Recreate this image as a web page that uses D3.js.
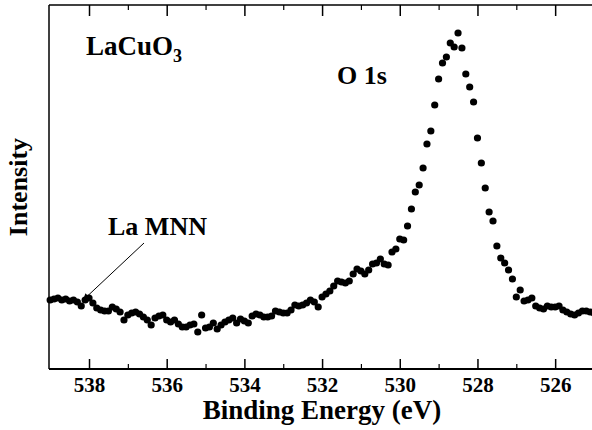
<!DOCTYPE html>
<html>
<head>
<meta charset="utf-8">
<script src="https://cdn.jsdelivr.net/npm/d3@7"></script>
<style>
  body { margin: 0; background: #fff; }
  text { font-family: "Liberation Serif", "DejaVu Serif", serif; font-weight: bold; fill: #000; }
</style>
</head>
<body>
<svg id="chart" width="592" height="430"></svg>
<script>
// binding energy (eV), 0.1 eV steps
var energy = [
  539.0, 538.9, 538.8, 538.7, 538.6, 538.5, 538.4, 538.3, 538.2, 538.1,
  538.0, 537.9, 537.8, 537.7, 537.6, 537.5, 537.4, 537.3, 537.2, 537.1,
  537.0, 536.9, 536.8, 536.7, 536.6, 536.5, 536.4, 536.3, 536.2, 536.1,
  536.0, 535.9, 535.8, 535.7, 535.6, 535.5, 535.4, 535.3, 535.2, 535.1,
  535.0, 534.9, 534.8, 534.7, 534.6, 534.5, 534.4, 534.3, 534.2, 534.1,
  534.0, 533.9, 533.8, 533.7, 533.6, 533.5, 533.4, 533.3, 533.2, 533.1,
  533.0, 532.9, 532.8, 532.7, 532.6, 532.5, 532.4, 532.3, 532.2, 532.1,
  532.0, 531.9, 531.8, 531.7, 531.6, 531.5, 531.4, 531.3, 531.2, 531.1,
  531.0, 530.9, 530.8, 530.7, 530.6, 530.5, 530.4, 530.3, 530.2, 530.1,
  530.0, 529.9, 529.8, 529.7, 529.6, 529.5, 529.4, 529.3, 529.2, 529.1,
  529.0, 528.9, 528.8, 528.7, 528.6, 528.5, 528.4, 528.3, 528.2, 528.1,
  528.0, 527.9, 527.8, 527.7, 527.6, 527.5, 527.4, 527.3, 527.2, 527.1,
  527.0, 526.9, 526.8, 526.7, 526.6, 526.5, 526.4, 526.3, 526.2, 526.1,
  526.0, 525.9, 525.8, 525.7, 525.6, 525.5, 525.4, 525.3, 525.2, 525.1,
  525.0
];

// intensity (arb. units)
var intensity = [
  69, 70, 71, 69, 70, 68, 69, 67, 63, 69,
  71, 66, 61, 59, 58, 58, 62, 60, 57, 49,
  54, 56, 57, 55, 52, 49, 44, 51, 53, 54,
  49, 47, 49, 45, 42, 42, 44, 45, 37, 54,
  41, 42, 46, 40, 44, 47, 49, 51, 46, 50,
  48, 46, 53, 55, 54, 52, 52, 53, 58, 57,
  56, 56, 59, 64, 63, 64, 66, 69, 67, 62,
  72, 75, 78, 83, 88, 87, 86, 88, 95, 100,
  98, 95, 99, 105, 106, 110, 105, 104, 117, 120,
  130, 129, 143, 160, 177, 184, 201, 225, 238, 264,
  290, 306, 312, 326, 322, 336, 321, 295, 282, 267,
  231, 206, 181, 157, 148, 123, 111, 106, 99, 90,
  72, 79, 68, 69, 71, 63, 61, 60, 63, 62,
  62, 63, 59, 57, 55, 54, 56, 58, 58, 57,
  56
];

var majorTicks = [538, 536, 534, 532, 530, 528, 526];
var minorTicks = [537, 535, 533, 531, 529, 527, 525];

var plot = {left: 49, right: 594, top: 5, bottom: 369};

var svg = d3.select("#chart");

var x = d3.scaleLinear().domain([539.03, 525.0]).range([plot.left, plot.right]);
var y = d3.scaleLinear().domain([0, 364]).range([plot.bottom, plot.top]);

// bottom axis, ticks pointing inside
var bottom = svg.append("g")
    .attr("transform", "translate(0," + plot.bottom + ")")
    .call(d3.axisBottom(x).tickValues(majorTicks).tickSize(-10).tickPadding(13)
      .tickFormat(d3.format("d")));
bottom.select(".domain").remove();
bottom.selectAll(".tick line").attr("stroke", "#000").attr("stroke-width", 1.5);
bottom.selectAll(".tick text").style("font-size", "21px").attr("dy", 0).attr("y", 23);

svg.append("g")
    .attr("transform", "translate(0," + plot.bottom + ")")
    .call(d3.axisBottom(x).tickValues(minorTicks).tickSize(-5).tickFormat(""))
    .call(function(g) { g.select(".domain").remove(); })
    .selectAll(".tick line").attr("stroke-width", 1.2);

// top axis, same ticks, no labels
svg.append("g")
    .attr("transform", "translate(0," + plot.top + ")")
    .call(d3.axisTop(x).tickValues(majorTicks).tickSize(-11).tickFormat(""))
    .call(function(g) { g.select(".domain").remove(); })
    .selectAll(".tick line").attr("stroke-width", 1.5);
svg.append("g")
    .attr("transform", "translate(0," + plot.top + ")")
    .call(d3.axisTop(x).tickValues(minorTicks).tickSize(-5).tickFormat(""))
    .call(function(g) { g.select(".domain").remove(); })
    .selectAll(".tick line").attr("stroke-width", 1.2);

// frame
svg.append("line").attr("x1", plot.left).attr("x2", plot.right)
    .attr("y1", plot.bottom).attr("y2", plot.bottom)
    .attr("stroke", "#000").attr("stroke-width", 2);
svg.append("line").attr("x1", plot.left).attr("x2", plot.right)
    .attr("y1", plot.top).attr("y2", plot.top)
    .attr("stroke", "#000").attr("stroke-width", 1.5);
svg.append("line").attr("x1", plot.left).attr("x2", plot.left)
    .attr("y1", plot.top).attr("y2", plot.bottom)
    .attr("stroke", "#000").attr("stroke-width", 1.5);

// data points
svg.append("g").selectAll("circle")
    .data(energy)
  .enter().append("circle")
    .attr("cx", function(d) { return x(d); })
    .attr("cy", function(d, i) { return y(intensity[i]); })
    .attr("r", 3.6)
    .attr("fill", "#000");

// axis titles
svg.append("text")
    .attr("x", 322).attr("y", 419)
    .style("text-anchor", "middle")
    .style("font-size", "27px")
    .text("Binding Energy (eV)");

svg.append("text")
    .attr("transform", "translate(27,187) rotate(-90)")
    .style("text-anchor", "middle")
    .style("font-size", "26px")
    .text("Intensity");

// labels inside the plot
var sample = svg.append("text")
    .attr("x", 86).attr("y", 55)
    .style("font-size", "27px");
sample.append("tspan").text("LaCuO");
sample.append("tspan").attr("dy", 7).style("font-size", "18px").text("3");

svg.append("text")
    .attr("x", 337).attr("y", 84)
    .style("font-size", "26px")
    .text("O 1s");

svg.append("text")
    .attr("x", 108).attr("y", 235)
    .style("font-size", "26px")
    .text("La MNN");

// arrow to the La MNN feature
svg.append("defs").append("marker")
    .attr("id", "head")
    .attr("viewBox", "0 0 10 10")
    .attr("refX", 9).attr("refY", 5)
    .attr("markerWidth", 9).attr("markerHeight", 7)
    .attr("markerUnits", "userSpaceOnUse")
    .attr("orient", "auto")
  .append("path")
    .attr("d", "M0,0 L10,5 L0,10 z")
    .attr("fill", "#000");

svg.append("line")
    .attr("x1", 144).attr("y1", 243)
    .attr("x2", x(538.2) + 2).attr("y2", y(intensity[8]) - 6)
    .attr("stroke", "#000").attr("stroke-width", 1)
    .attr("marker-end", "url(#head)");
</script>
</body>
</html>
